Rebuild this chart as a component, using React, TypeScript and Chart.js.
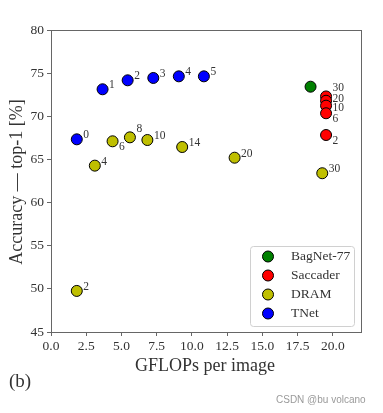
import React, { useEffect, useRef } from 'react';
import { Chart, registerables } from 'chart.js';

Chart.register(...registerables);

const xTicks = [0, 2.5, 5, 7.5, 10, 12.5, 15, 17.5, 20];
const yTicks = [45, 50, 55, 60, 65, 70, 75, 80];

const bagnetX = [18.42];
const bagnetY = [73.43];
const bagnetLabels = [''];
const bagnetPlace = ['up'];

const saccaderX = [19.52, 19.52, 19.52, 19.52, 19.52];
const saccaderY = [72.3, 71.8, 71.23, 70.35, 67.83];
const saccaderLabels = ['30', '20', '10', '6', '2'];
const saccaderPlace = ['top', 'mid', 'low', 'down', 'down'];

const dramX = [1.83, 3.11, 4.37, 5.6, 6.84, 9.31, 13.03, 19.25];
const dramY = [49.76, 64.28, 67.1, 67.56, 67.25, 66.44, 65.2, 63.4];
const dramLabels = ['2', '4', '6', '8', '10', '14', '20', '30'];
const dramPlace = ['up', 'up', 'down', 'top', 'up', 'up', 'up', 'up'];

const tnetX = [1.83, 3.66, 5.44, 7.26, 9.07, 10.85];
const tnetY = [67.33, 73.13, 74.17, 74.44, 74.63, 74.63];
const tnetLabels = ['0', '1', '2', '3', '4', '5'];
const tnetPlace = ['up', 'up', 'up', 'up', 'up', 'up'];

const seriesNames = ['BagNet-77', 'Saccader', 'DRAM', 'TNet'];
const seriesColors = ['#008000', '#ff0000', '#bfbf00', '#0000ff'];

const SERIF = '"Liberation Serif", "DejaVu Serif", serif';
const TEXT = '#333333';
const AXIS = '#666666';
const R = 5.5;

const pts = (xs: number[], ys: number[]) => xs.map((x, i) => ({ x, y: ys[i] }));

const placeDy: Record<string, number> = { top: -8, up: -4, mid: -2, low: 2.5, down: 5.5 };

export default function App() {
  const ref = useRef<HTMLCanvasElement>(null);

  useEffect(() => {
    if (!ref.current) return;
    const labelSets = [bagnetLabels, saccaderLabels, dramLabels, tnetLabels];
    const placeSets = [bagnetPlace, saccaderPlace, dramPlace, tnetPlace];

    const decor = {
      id: 'decor',
      afterDatasetsDraw(chart: any) {
        const ctx = chart.ctx;
        const a = chart.chartArea;
        ctx.save();
        // frame
        ctx.strokeStyle = AXIS;
        ctx.lineWidth = 1;
        ctx.strokeRect(a.left + 0.5, a.top + 0.5, a.right - a.left, a.bottom - a.top);
        // point labels
        ctx.fillStyle = TEXT;
        ctx.font = `11.5px ${SERIF}`;
        ctx.textAlign = 'left';
        ctx.textBaseline = 'middle';
        chart.data.datasets.forEach((ds: any, di: number) => {
          const meta = chart.getDatasetMeta(di);
          meta.data.forEach((el: any, i: number) => {
            const t = labelSets[di][i];
            if (!t) return;
            ctx.fillText(t, el.x + R + 1, el.y + placeDy[placeSets[di][i]]);
          });
        });
        // legend
        const bw = 104, bh = 80;
        const bx = a.right - 7 - bw;
        const by = a.bottom - 6 - bh;
        ctx.fillStyle = 'rgba(255,255,255,0.85)';
        ctx.strokeStyle = '#d0d0d0';
        ctx.beginPath();
        (ctx as any).roundRect(bx + 0.5, by + 0.5, bw, bh, 3);
        ctx.fill();
        ctx.stroke();
        ctx.font = `13.5px ${SERIF}`;
        seriesNames.forEach((name, i) => {
          const cy = by + 10.5 + i * 19;
          ctx.beginPath();
          ctx.arc(bx + 18, cy, R, 0, Math.PI * 2);
          ctx.fillStyle = seriesColors[i];
          ctx.fill();
          ctx.strokeStyle = '#000';
          ctx.stroke();
          ctx.fillStyle = TEXT;
          ctx.fillText(name, bx + 41, cy);
        });
        // axis titles
        ctx.font = `18px ${SERIF}`;
        ctx.textAlign = 'center';
        ctx.fillStyle = TEXT;
        ctx.fillText('GFLOPs per image', 205, 366);
        ctx.translate(17, 182);
        ctx.rotate(-Math.PI / 2);
        ctx.fillText('Accuracy — top-1 [%]', 0, 0);
        ctx.restore();
      },
    };

    const mk = (i: number, data: any[]) => ({
      label: seriesNames[i],
      data,
      backgroundColor: seriesColors[i],
      borderColor: '#000',
      borderWidth: 1,
      pointRadius: R,
      pointHoverRadius: R,
    });

    const chart = new Chart(ref.current, {
      type: 'scatter',
      data: {
        datasets: [
          mk(0, pts(bagnetX, bagnetY)),
          mk(1, pts(saccaderX, saccaderY)),
          mk(2, pts(dramX, dramY)),
          mk(3, pts(tnetX, tnetY)),
        ],
      },
      options: {
        animation: false,
        responsive: false,
        events: [],
        layout: { padding: { top: 30, right: 22, left: 0, bottom: 0 } },
        plugins: { legend: { display: false }, tooltip: { enabled: false } },
        scales: {
          x: {
            type: 'linear',
            min: 0,
            max: 22,
            afterBuildTicks: (s: any) => {
              s.ticks = xTicks.map((v) => ({ value: v }));
            },
            afterFit: (s: any) => {
              s.height = 81;
            },
            ticks: {
              callback: (v: any) => Number(v).toFixed(1),
              font: { family: SERIF, size: 13.5 },
              color: TEXT,
              padding: 2,
              maxRotation: 0,
              autoSkip: false,
            },
            grid: { drawOnChartArea: false, tickLength: 4, color: AXIS },
            border: { color: AXIS },
          },
          y: {
            type: 'linear',
            min: 45,
            max: 80,
            afterBuildTicks: (s: any) => {
              s.ticks = yTicks.map((v) => ({ value: v }));
            },
            afterFit: (s: any) => {
              s.width = 51;
            },
            ticks: {
              font: { family: SERIF, size: 13.5 },
              color: TEXT,
              padding: 3,
              autoSkip: false,
            },
            grid: { drawOnChartArea: false, tickLength: 4, color: AXIS },
            border: { color: AXIS },
          },
        },
      },
      plugins: [decor],
    } as any);
    return () => chart.destroy();
  }, []);

  return (
    <div style={{ position: 'fixed', left: 0, top: 0, width: 383, height: 413, background: '#fff' }}>
      <canvas ref={ref} width={383} height={413} style={{ display: 'block' }} />
      <div
        style={{
          position: 'absolute',
          left: 9,
          top: 369,
          fontFamily: SERIF,
          fontSize: 19,
          color: TEXT,
          lineHeight: '24px',
        }}
      >
        (b)
      </div>
      <div
        style={{
          position: 'absolute',
          left: 276,
          top: 393,
          fontFamily: '"Liberation Sans", Arial, sans-serif',
          fontSize: 10,
          color: '#9a9a9a',
          lineHeight: '13px',
          whiteSpace: 'nowrap',
        }}
      >
        CSDN @bu volcano
      </div>
    </div>
  );
}
